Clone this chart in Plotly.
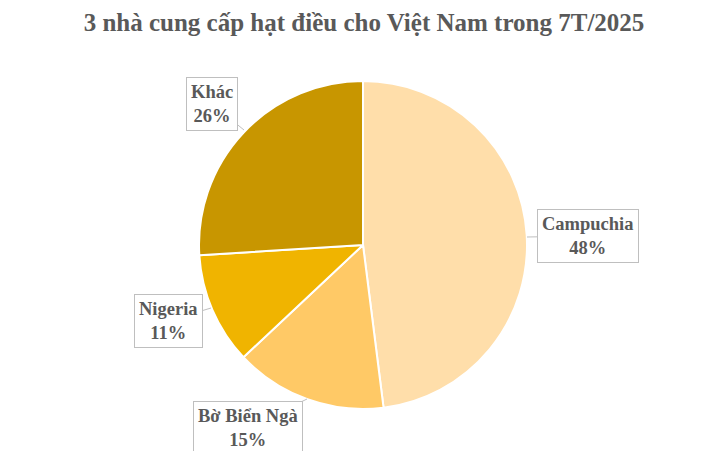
import plotly.graph_objects as go

labels = ["Campuchia", "Bờ Biển Ngà", "Nigeria", "Khác"]
values = [48, 15, 11, 26]
colors = ["#FFDEAA", "#FFC966", "#F0B400", "#C89600"]
title = "3 nhà cung cấp hạt điều cho Việt Nam trong 7T/2025"

W, H = 728, 451
OFF = 8  # page body margin offset
cx, cy, r = 363 - OFF, 245 - OFF, 164

fig = go.Figure(go.Pie(
    labels=labels, values=values, sort=False, direction="clockwise", rotation=0,
    marker=dict(colors=colors, line=dict(color="white", width=2)),
    textinfo="none", hoverinfo="label+percent", showlegend=False,
    domain=dict(x=[(cx - r) / W, (cx + r) / W], y=[1 - (cy + r) / H, 1 - (cy - r) / H]),
))

# label box centers and arrow tips (screen pixels)
boxes = [(588, 236, 527, 237), (248, 428, 307, 399), (168, 321, 211, 308), (212, 104, 244, 130)]
for lab, val, (bx, by, tx, ty) in zip(labels, values, boxes):
    fig.add_annotation(
        x=(tx - OFF) / W, y=1 - (ty - OFF) / H, xref="paper", yref="paper",
        ax=bx - tx, ay=by - ty,
        text=f"<b>{lab}<br>{val}%</b>", showarrow=True, arrowhead=0,
        arrowcolor="#BFBFBF", arrowwidth=1,
        bordercolor="#BFBFBF", borderwidth=1, borderpad=4, bgcolor="white",
        font=dict(family="Liberation Serif, Times New Roman, serif", size=18.5, color="#595959"),
        align="center",
    )

fig.update_layout(
    width=W, height=H, margin=dict(l=0, r=0, t=0, b=0),
    paper_bgcolor="white", plot_bgcolor="white",
    title=dict(text=f"<b>{title}</b>", x=(364 - OFF) / W, xanchor="center", y=1 - (22 - OFF) / H, yanchor="middle",
               font=dict(family="Liberation Serif, Times New Roman, serif", size=25, color="#595959")),
)

fig.write_html("out.html")
